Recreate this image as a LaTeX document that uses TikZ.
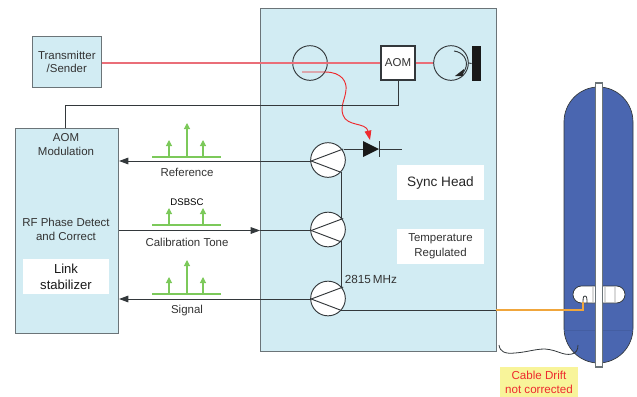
\documentclass[tikz,border=0pt]{standalone}
\usepackage{fontspec}
\setmainfont{Liberation Sans}
\usetikzlibrary{arrows.meta,calc}
\definecolor{pale}{HTML}{D2ECF3}
\definecolor{edgegray}{HTML}{6B7478}
\definecolor{wire}{HTML}{33383B}
\definecolor{hot}{HTML}{EE2A2E}
\definecolor{laserpink}{HTML}{EA6E78}
\definecolor{tone}{HTML}{7CC95A}
\definecolor{capsule}{HTML}{4A66B0}
\definecolor{cable}{HTML}{F0A63C}
\definecolor{note}{HTML}{F8F49A}
\tikzset{
  x=0.75pt,y=-0.75pt,
  panel/.style={draw=edgegray,fill=pale,line width=0.8pt},
  wireline/.style={draw=wire,line width=0.7pt},
  laserbeam/.style={draw=laserpink,line width=0.8pt},
  label/.style={font=\fontsize{8.6}{10.5}\selectfont,text=black!80,align=center,inner sep=0pt},
  whitebox/.style={fill=white,draw=none,inner sep=0pt},
  mixer/.style={circle,draw=wire,fill=white,line width=0.7pt,minimum size=26pt,inner sep=0pt},
  ringnode/.style={circle,draw=wire,line width=0.7pt,minimum size=26pt,inner sep=0pt},
  tonebase/.style={draw=tone,line width=0.8pt},
  tonetip/.style={draw=tone,line width=0.8pt,-{Triangle[length=4.5pt,width=4.5pt,fill=tone]}},
  bigarrow/.style={wireline,-{Triangle[length=7pt,width=5pt,fill=wire]}},
}
\begin{document}
\begin{tikzpicture}
\useasboundingbox (0,0) rectangle (637,397);
% panels
\node[panel,minimum width=177pt,minimum height=257.25pt,inner sep=0pt,anchor=north west] (head) at (260,8) {};
\node[panel,minimum width=77.25pt,minimum height=153.75pt,inner sep=0pt,anchor=north west] (stab) at (15,128) {};
\node[panel,minimum width=51.4pt,minimum height=38.25pt,inner sep=0pt,anchor=north west,label,font=\fontsize{8.6}{10.2}\selectfont] (tx) at (32,36) {Transmitter\\/Sender};
% capsule
\fill[capsule,draw=wire,line width=0.5pt] (564,122) arc[start angle=180,end angle=0,x radius=34.5,y radius=-35] -- (633,328) arc[start angle=0,end angle=-180,x radius=34.5,y radius=-35] -- cycle;
\draw[capsule!92!black,line width=0.4pt] (564,330) -- (633,330);
% slot
\draw[fill=white,draw=wire,line width=0.6pt,rounded corners=6.3pt] (573,286) rectangle (625,303);
\draw[black!15,line width=0.8pt] (615,287) -- (615,302);
\draw[black!15,line width=1pt] (593,287) -- (593,302);
\draw[black!15,line width=1pt] (605,287) -- (605,302);
% stick
\node[draw=edgegray,fill=white,line width=0.8pt,minimum width=5.8pt,minimum height=213pt,inner sep=0pt] (stick) at (599,225) {};
% Laser path
\node[ringnode] (split) at (310,63) {};
\node[draw=wire,fill=white,line width=0.8pt,minimum width=25.5pt,minimum height=25.5pt,inner sep=0pt,label] (aom) at (398,63) {AOM};
\node[ringnode] (iso) at (451,63) {};
\node[fill=black!90,draw=none,minimum width=7pt,minimum height=26.5pt,inner sep=0pt] (mirror) at (476.5,63.5) {};
\draw[laserbeam] (tx.east |- aom.west) -- (aom.west);
\draw[laserbeam] (aom.east) -- (iso.west);
\draw[wireline] (iso.east) -- (mirror.west);
\draw[wire,line width=0.7pt] (454,51) .. controls (463,52) and (468,60) .. (466,67) .. controls (465,71) and (463,73) .. (460,75);
\fill[black!85] (455,76) -- (464,69) -- (463,76) -- cycle;
% red curve
\coordinate (pickoff) at (302,72);
\draw[hot,line width=0.7pt,-{Triangle[length=7pt,width=5pt,fill=hot]}] (pickoff) -- (325,72) .. controls (342,72) and (347,82) .. (346,90) .. controls (345,100) and (340,106) .. (343,115) .. controls (347,127) and (366,122) .. (370,140);
% AOM modulation line
\draw[wireline] (aom.south) -- (398,105) -- (65,105) -- (stab.north -| 65,0);
% mixers
\node[mixer] (m1) at (328,160) {};
\node[mixer] (m2) at (328,229.5) {};
\node[mixer] (m3) at (328,298.5) {};
\coordinate (m1in) at ($(m1.west)+(1,1)$);
\coordinate (m2in) at ($(m2.west)+(1,1)$);
\coordinate (m3in) at ($(m3.west)+(1,0.5)$);
\foreach \m in {m1in,m2in,m3in}{
  \draw[wireline] (\m) -- ++(32,-12);
  \draw[wireline] (\m) -- ++(29,11);
}
\draw[wireline] (341,172) -- (341,218);
\draw[wireline] (341,241) -- (341,287);
% diode
\fill[black!90] (363,141) -- (379,149) -- (363,157) -- cycle;
\node[inner sep=0pt,minimum size=0pt] (diode) at (371,149) {};
\draw[wireline] (343.5,149) -- (363,149);
\draw[wireline] (379,141) -- (379,157);
\coordinate (dout) at (402,149);
\draw[wireline] (379,149) -- (dout);
% white labels
\node[whitebox,minimum width=65pt,minimum height=26.5pt,font=\fontsize{10.2}{13}\selectfont,text=black!85] (synclab) at (440.5,182.5) {Sync Head};
\node[whitebox,minimum width=65pt,minimum height=26.5pt,label,fill=white,align=center] (templab) at (440.5,246.5) {Temperature\\[1pt]Regulated};
\node[whitebox,minimum width=64.5pt,minimum height=26.5pt,font=\fontsize{9.8}{12}\selectfont,text=black!90,align=center] (linklab) at (66,276.5) {Link\\stabilizer};
\node[label] (aomtxt) at (66,144.5) {AOM\\Modulation};
\node[label] (rftxt) at (66,229.5) {RF Phase Detect\\and Correct};
% signal lines
\draw[bigarrow] (m1in) -- (stab.east |- m1in);
\draw[bigarrow] (stab.east |- m2in) -- (head.west |- m2in);
\draw[wireline] (head.west |- m2in) -- (m2in);
\draw[bigarrow] (m3in) -- (stab.east |- m3in);
% spectra
\foreach \y in {157,294}{
  \draw[tonebase] (152,\y) -- (221,\y);
  \draw[tonetip] (169,\y) -- (169,\y-17);
  \draw[tonetip] (203,\y) -- (203,\y-17);
  \draw[tonetip] (187,\y) -- (187,\y-34);
}
\draw[tonebase] (152,225) -- (221,225);
\draw[tonetip] (169,225) -- (169,208);
\draw[tonetip] (203,225) -- (203,208);
\node[label] (reftxt) at (187,172.5) {Reference};
\node[label,font=\fontsize{7.2}{9}\selectfont,text=black] (dsb) at (187,202.5) {DSBSC};
\node[label] (caltxt) at (187,242) {Calibration Tone};
\node[label] (sigtxt) at (187,311) {Signal};
\node[label,anchor=west,font=\fontsize{8.8}{10.5}\selectfont] (mhz) at (344.5,279) {2815\,MHz};
% cable
\coordinate (junction) at (496,310);
\draw[wireline] (341,310) -- (junction);
\draw[cable,line width=0.8pt] (junction) -- (583,310) -- (583,302);
\draw[wire,line width=0.6pt] (583,302) .. controls (583,296) and (584,296) .. (585,296) .. controls (587,296) and (587,299) .. (587,303);
% drift wave
\draw[wire,line width=0.6pt] (499,345) .. controls (500,352) and (505,354) .. (515,353) .. controls (528,352) and (535,349) .. (545,349) .. controls (558,350) and (563,356) .. (572,354) .. controls (576,353) and (578,350) .. (578,345);
% note
\node[fill=note,minimum width=58.5pt,minimum height=22.5pt,inner sep=0pt,align=center,font=\fontsize{8.7}{10.5}\selectfont,text=hot] (drift) at (539,382) {Cable Drift\\not corrected};
\end{tikzpicture}
\end{document}
